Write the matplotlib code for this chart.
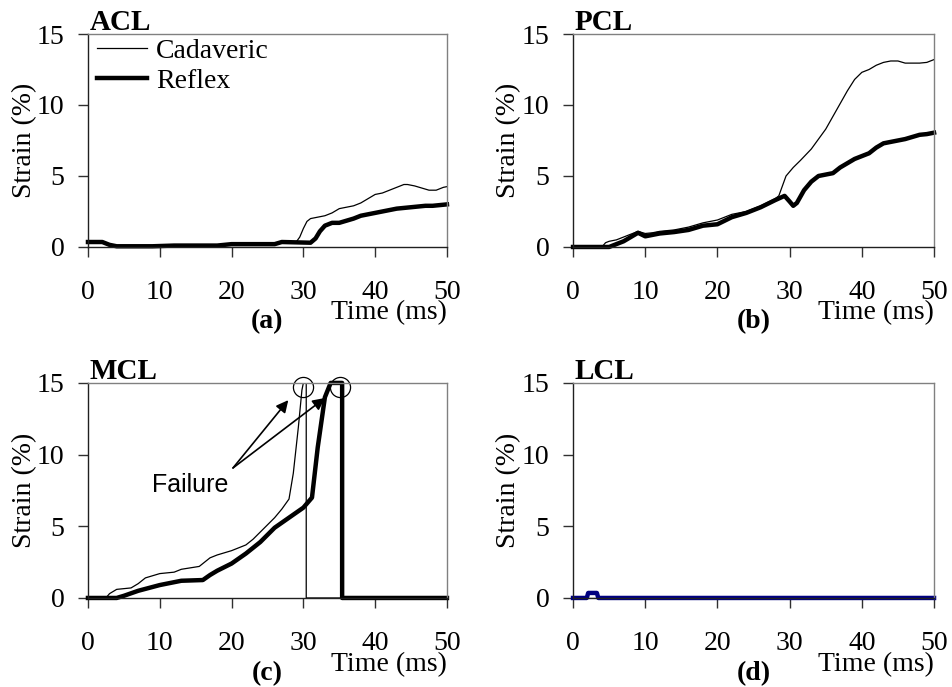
# ============================================================
#  Ligament strain vs time — ACL / PCL / MCL / LCL
# ============================================================

import matplotlib
matplotlib.use('Agg')
import matplotlib.pyplot as plt

plt.rcParams['font.family'] = ['Liberation Serif', 'DejaVu Serif']

# ── Data ─────────────────────────────────────────────────────
acl_t_cad = [0, 1, 2, 3, 4, 6, 9, 12, 18, 20, 26, 27, 29, 29.5, 30, 30.5, 31, 32, 33, 34,
             35, 36, 37, 38, 39, 40, 41, 42, 43, 44, 44.5, 45.5, 46.5, 47.5, 48.5, 49.5, 50]
acl_cad   = [0.3, 0.3, 0.3, 0.15, 0.05, 0.05, 0.05, 0.1, 0.1, 0.2, 0.2, 0.35, 0.35, 0.7, 1.3,
             1.8, 2.0, 2.1, 2.2, 2.4, 2.7, 2.8, 2.9, 3.1, 3.4, 3.7, 3.8, 4.0, 4.2, 4.4, 4.4,
             4.3, 4.15, 4.0, 4.0, 4.2, 4.25]
acl_t_ref = [0, 1, 2, 3, 4, 6, 9, 12, 18, 20, 26, 27, 31, 31.7, 32.3, 33, 34, 35, 36, 37,
             38, 39, 40, 41, 42, 43, 44, 45, 46, 47, 48, 49, 50]
acl_ref   = [0.35, 0.35, 0.35, 0.15, 0.05, 0.05, 0.05, 0.1, 0.1, 0.2, 0.2, 0.35, 0.3, 0.6,
             1.1, 1.5, 1.7, 1.7, 1.85, 2.0, 2.2, 2.3, 2.4, 2.5, 2.6, 2.7, 2.75, 2.8, 2.85,
             2.9, 2.9, 2.95, 3.0]

pcl_t_cad = [0, 4, 4.5, 5, 6, 7, 8, 9, 10, 11, 12, 14, 16, 18, 20, 22, 24, 26, 28, 28.5,
             29, 29.5, 30.5, 31.5, 33, 34, 35, 36, 37, 38, 39, 40, 41, 42, 43, 44, 45, 46,
             47, 48, 49, 50]
pcl_cad   = [0, 0, 0.3, 0.4, 0.5, 0.7, 0.9, 1.1, 0.95, 1.0, 1.1, 1.2, 1.4, 1.7, 1.9, 2.3,
             2.5, 2.9, 3.4, 3.6, 4.3, 5.0, 5.6, 6.1, 6.9, 7.6, 8.3, 9.2, 10.1, 11.0, 11.8,
             12.3, 12.5, 12.8, 13.0, 13.1, 13.1, 12.95, 12.95, 12.95, 13.0, 13.2]
pcl_t_ref = [0, 5, 6, 7, 8, 9, 10, 11, 12, 14, 16, 18, 20, 22, 24, 26, 28, 29.3, 30, 30.5,
             31, 32, 33, 34, 35, 36, 37, 38, 39, 40, 41, 42, 43, 44, 45, 46, 47, 48, 49, 50]
pcl_ref   = [0, 0, 0.2, 0.4, 0.7, 1.0, 0.75, 0.85, 0.95, 1.05, 1.2, 1.5, 1.6, 2.1, 2.4, 2.8,
             3.3, 3.6, 3.2, 2.9, 3.1, 4.0, 4.6, 5.0, 5.1, 5.2, 5.6, 5.9, 6.2, 6.4, 6.6, 7.0,
             7.3, 7.4, 7.5, 7.6, 7.75, 7.9, 7.95, 8.05]

mcl_t_cad = [0, 2.5, 3, 4, 6, 7, 8, 10, 12, 13, 15.5, 17, 18, 20, 22, 23, 24, 25, 26, 27,
             28, 28.6, 29.3, 29.8, 30, 30.4, 30.4, 50]
mcl_cad   = [0, 0, 0.3, 0.6, 0.7, 1.0, 1.4, 1.7, 1.8, 2.0, 2.2, 2.8, 3.0, 3.3, 3.7, 4.1,
             4.6, 5.1, 5.6, 6.2, 6.9, 8.7, 11.9, 14.5, 15, 15, 0, 0]
mcl_t_ref = [0, 4, 5, 7, 10, 13, 16, 17, 18, 20, 22, 24, 26, 28, 30, 31.2, 32, 33, 33.8,
             35.4, 35.4, 50]
mcl_ref   = [0, 0, 0.15, 0.5, 0.9, 1.2, 1.25, 1.6, 1.9, 2.4, 3.1, 3.9, 4.9, 5.6, 6.3, 7.0,
             10.5, 14.0, 15, 15, 0, 0]

lcl_t_cad = [0, 50]
lcl_cad   = [0, 0]
lcl_t_ref = [0, 1.9, 2.1, 3.3, 3.5, 50]
lcl_ref   = [0, 0, 0.35, 0.35, 0, 0]

failure_points = [(29.9, 14.7), (35.1, 14.7)]
arrow_heads    = [(27.9, 13.8), (33.0, 13.95)]
arrow_tail     = (20.2, 9.07)

panels = [
    ('ACL', '(a)', acl_t_cad, acl_cad, acl_t_ref, acl_ref, 'black'),
    ('PCL', '(b)', pcl_t_cad, pcl_cad, pcl_t_ref, pcl_ref, 'black'),
    ('MCL', '(c)', mcl_t_cad, mcl_cad, mcl_t_ref, mcl_ref, 'black'),
    ('LCL', '(d)', lcl_t_cad, lcl_cad, lcl_t_ref, lcl_ref, '#000080'),
]

# axes rectangles (fig fractions) — left, bottom, width, height
positions = [
    [0.0923, 0.6405, 0.3767, 0.3100],
    [0.6013, 0.6405, 0.3788, 0.3100],
    [0.0923, 0.1296, 0.3767, 0.3130],
    [0.6013, 0.1296, 0.3788, 0.3130],
]

FS = 20

# ============================================================
#  FIGURE
# ============================================================
fig = plt.figure(figsize=(9.53, 6.87), dpi=100)

for (name, tag, tc, yc, tr, yr, rcol), pos in zip(panels, positions):
    ax = fig.add_axes(pos)
    ax.plot(tc, yc, color='black', lw=0.9, label='Cadaveric')
    ax.plot(tr, yr, color=rcol, lw=3.2, label='Reflex', clip_on=False,
            solid_joinstyle='round')

    ax.set_xlim(0, 50)
    ax.set_ylim(0, 15)
    ax.set_xticks([0, 10, 20, 30, 40, 50])
    ax.set_yticks([0, 5, 10, 15])
    ax.tick_params(axis='both', direction='out', length=7, width=1, color='#303030',
                   labelsize=FS)
    ax.tick_params(axis='x', pad=17)
    ax.tick_params(axis='y', pad=10)
    # left/bottom axes dark, plot-area frame grey
    ax.spines['left'].set_color('#202020')
    ax.spines['bottom'].set_color('#202020')
    ax.spines['top'].set_color('#808080')
    ax.spines['right'].set_color('#808080')
    for sp in ax.spines.values():
        sp.set_linewidth(1)

    ax.set_ylabel('Strain (%)', fontsize=FS)
    ax.yaxis.set_label_coords(-0.143, 0.5)

    ax.text(0.005, 1.02, name, transform=ax.transAxes, fontsize=21,
            fontweight='bold', ha='left', va='baseline')
    ax.text(1.0, -0.31, 'Time (ms)', transform=ax.transAxes, fontsize=FS,
            ha='right', va='center')
    ax.text(0.5, -0.35, tag, transform=ax.transAxes, fontsize=FS,
            fontweight='bold', ha='center', va='center')

    if name == 'ACL':
        ax.legend(loc='upper left', bbox_to_anchor=(0.014, 1.0), frameon=False,
                  fontsize=FS, handlelength=1.8, handletextpad=0.32,
                  labelspacing=0.18, borderaxespad=0.0, borderpad=0.15)

    if name == 'MCL':
        for cx, cy in failure_points:
            ax.plot(cx, cy, 'o', ms=14.5, mfc='none', mec='black', mew=0.9,
                    clip_on=False)
        for hx, hy in arrow_heads:
            ax.annotate('', xy=(hx, hy), xytext=arrow_tail,
                        arrowprops=dict(arrowstyle='-|>', color='black', lw=1.2,
                                        mutation_scale=18, shrinkA=0, shrinkB=0))
        ax.text(14.2, 7.9, 'Failure', fontsize=18, family='Liberation Sans',
                ha='center', va='center')

plt.savefig('out.png', dpi=100)
